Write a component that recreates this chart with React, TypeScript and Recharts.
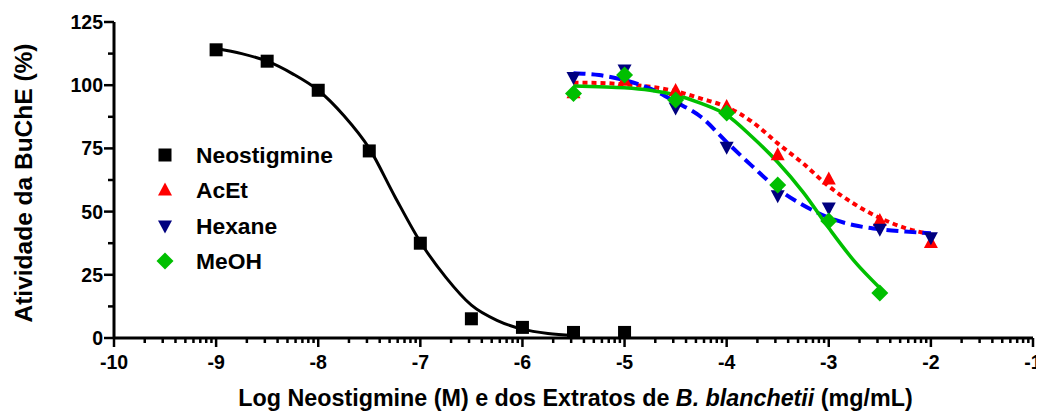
import React from 'react';
import { ComposedChart, Line, Scatter, XAxis, YAxis } from 'recharts';

// ---- measured points ----
const neoX = [-9, -8.5, -8, -7.5, -7, -6.5, -6, -5.5, -5];
const neoY = [114, 109.5, 98, 74, 37.5, 7.6, 4.2, 2.2, 2.2];

const extractX = [-5.5, -5, -4.5, -4, -3.5, -3, -2.5, -2];
const acetY = [97, 102, 97.9, 91.6, 72.5, 62.9, 46.5, 37.8];
const hexY = [103, 106, 91, 75.5, 56.3, 51.4, 43, 39.7];
const meohX = [-5.5, -5, -4.5, -4, -3.5, -3, -2.5];
const meohY = [96.7, 104, 94.1, 89, 60.5, 46.3, 17.8];

// ---- fitted curves ----
const neoFitX = [-9, -8.75, -8.5, -8.25, -8, -7.75, -7.5, -7.25, -7, -6.75, -6.5, -6.25, -6, -5.75, -5.5];
const neoFitY = [114.5, 112.5, 109.5, 104.5, 98, 88, 75, 56, 38, 24, 13, 7, 3.5, 1.8, 1];

const extFitX = [-5.5, -5.25, -5, -4.75, -4.5, -4.25, -4, -3.75, -3.5, -3.25, -3, -2.75, -2.5, -2.25, -2];
const acetFitY = [101, 100.9, 100.3, 99.4, 97.6, 94.7, 91.4, 85.5, 77, 69, 60, 53, 47.5, 43.5, 41];
const hexFitY = [104.7, 104, 102, 98.7, 93.4, 87.4, 77.5, 68, 59, 52.5, 47.6, 44.6, 43, 42.1, 41.4];
const meohFitX = [-5.5, -5.25, -5, -4.75, -4.5, -4.25, -4, -3.75, -3.5, -3.25, -3, -2.75, -2.5];
const meohFitY = [99.7, 99.4, 99, 98, 96.1, 92.8, 88.2, 79.5, 69.5, 57.6, 43.5, 30.4, 19.8];

// ---- axes ----
const xMajorTicks = [-10, -9, -8, -7, -6, -5, -4, -3, -2, -1];
const xMinorFactors = [2, 3, 4, 5, 6, 7, 8, 9];
const yTicks = [0, 12.5, 25, 37.5, 50, 62.5, 75, 87.5, 100, 112.5, 125];
const yMajorTicks = [0, 25, 50, 75, 100, 125];

const seriesNames = ['Neostigmine', 'AcEt', 'Hexane', 'MeOH'];

const zip = (xs: number[], ys: number[]) => xs.map((x, i) => ({ x, y: ys[i] }));

const neoPts = zip(neoX, neoY);
const acetPts = zip(extractX, acetY);
const hexPts = zip(extractX, hexY);
const meohPts = zip(meohX, meohY);
const neoFit = zip(neoFitX, neoFitY);
const acetFit = zip(extFitX, acetFitY);
const hexFit = zip(extFitX, hexFitY);
const meohFit = zip(meohFitX, meohFitY);

const xTicks: number[] = [];
xMajorTicks.forEach((n, i) => {
  xTicks.push(n);
  if (i < xMajorTicks.length - 1) xMinorFactors.forEach((k) => xTicks.push(n + Math.log10(k)));
});

const FONT = '"Liberation Sans", Arial, Helvetica, sans-serif';
const BLACK = '#000000';
const RED = '#ff0000';
const NAVY = '#00007f';
const BLUE = '#0000ff';
const GREEN = '#00bf00';

const Square = ({ cx, cy, fill }: any) => <rect x={cx - 6.5} y={cy - 6.5} width={13} height={13} fill={fill} />;
const TriUp = ({ cx, cy, fill }: any) => (
  <polygon points={`${cx},${cy - 7.5} ${cx + 7},${cy + 5.5} ${cx - 7},${cy + 5.5}`} fill={fill} />
);
const TriDown = ({ cx, cy, fill }: any) => (
  <polygon points={`${cx},${cy + 7.5} ${cx + 7},${cy - 5.5} ${cx - 7},${cy - 5.5}`} fill={fill} />
);
const Diamond = ({ cx, cy, fill }: any) => (
  <polygon points={`${cx},${cy - 8.5} ${cx + 8.5},${cy} ${cx},${cy + 8.5} ${cx - 8.5},${cy}`} fill={fill} />
);

const markerFor = [
  (cx: number, cy: number) => <Square cx={cx} cy={cy} fill={BLACK} />,
  (cx: number, cy: number) => <TriUp cx={cx} cy={cy} fill={RED} />,
  (cx: number, cy: number) => <TriDown cx={cx} cy={cy} fill={NAVY} />,
  (cx: number, cy: number) => <Diamond cx={cx} cy={cy} fill={GREEN} />,
];

const XTick = (props: any) => {
  const { x, y, payload } = props;
  const v = payload.value;
  const major = Math.abs(v - Math.round(v)) < 1e-9;
  return (
    <g>
      <line x1={x} x2={x} y1={y} y2={y + (major ? 9 : 5)} stroke={BLACK} strokeWidth={2.5} />
      {major && (
        <text x={x} y={y + 31} textAnchor="middle" fontFamily={FONT} fontWeight="bold" fontSize={19.5} fill={BLACK}>
          {Math.round(v)}
        </text>
      )}
    </g>
  );
};

const YTick = (props: any) => {
  const { x, y, payload } = props;
  const v = payload.value;
  const major = yMajorTicks.includes(v);
  return (
    <g>
      <line x1={x - (major ? 10 : 6)} x2={x} y1={y} y2={y} stroke={BLACK} strokeWidth={2.5} />
      {major && (
        <text x={x - 11} y={y} dy="0.36em" textAnchor="end" fontFamily={FONT} fontWeight="bold" fontSize={19.5} fill={BLACK}>
          {v}
        </text>
      )}
    </g>
  );
};

const YTitle = (props: any) => {
  const vb = props.viewBox || { x: 40, y: 14, width: 66, height: 316 };
  const cx = vb.x - 25;
  const cy = vb.y + vb.height / 2 + 3;
  return (
    <text
      x={cx}
      y={cy}
      transform={`rotate(-90, ${cx}, ${cy})`}
      textAnchor="middle"
      dominantBaseline="central"
      fontFamily={FONT}
      fontWeight="bold"
      fontSize={24.5}
      fill={BLACK}
    >
      Atividade da BuChE (%)
    </text>
  );
};

const XTitle = (props: any) => {
  const vb = props.viewBox || { x: 106, y: 330, width: 919, height: 60 };
  const cx = vb.x + vb.width / 2 + 2;
  const by = vb.y + 68;
  return (
    <text x={cx} y={by} textAnchor="middle" fontFamily={FONT} fontWeight="bold" fontSize={23.3} fill={BLACK}>
      <tspan>Log Neostigmine (M) e dos Extratos de </tspan>
      <tspan fontStyle="italic">B. blanchetii</tspan>
      <tspan> (mg/mL)</tspan>
    </text>
  );
};

const LegendBox = () => (
  <div
    style={{
      position: 'absolute',
      left: 148,
      top: 129,
      fontFamily: FONT,
      fontWeight: 'bold',
      fontSize: 22.8,
      color: BLACK,
      pointerEvents: 'none',
    }}
  >
    {seriesNames.map((name, i) => (
      <div key={name} style={{ display: 'flex', alignItems: 'center', height: 35.5 }}>
        <svg width={18} height={18} style={{ display: 'block' }}>
          {markerFor[i](9, 9)}
        </svg>
        <span style={{ marginLeft: 22, lineHeight: '22px', whiteSpace: 'nowrap' }}>{name}</span>
      </div>
    ))}
  </div>
);

export default function App() {
  return (
    <div style={{ position: 'relative', width: 1036, height: 405 }}>
      <ComposedChart width={1036} height={405} margin={{ top: 14, right: 11, left: 40, bottom: 15 }}>
        <XAxis
          dataKey="x"
          type="number"
          domain={[-10, -1]}
          ticks={xTicks}
          interval={0}
          allowDataOverflow
          tickSize={0}
          tickMargin={0}
          tickLine={false}
          tick={<XTick />}
          axisLine={{ stroke: BLACK, strokeWidth: 3 }}
          height={60}
          label={{ content: (p: any) => <XTitle {...p} /> }}
        />
        <YAxis
          dataKey="y"
          type="number"
          domain={[0, 125]}
          ticks={yTicks}
          interval={0}
          allowDataOverflow
          tickSize={0}
          tickMargin={0}
          tickLine={false}
          tick={<YTick />}
          axisLine={{ stroke: BLACK, strokeWidth: 3 }}
          width={66}
          label={{ content: (p: any) => <YTitle {...p} /> }}
        />
        <Line data={neoFit} dataKey="y" type="monotone" stroke={BLACK} strokeWidth={3} dot={false} activeDot={false} isAnimationActive={false} legendType="none" />
        <Line data={acetFit} dataKey="y" type="monotone" stroke={RED} strokeWidth={4} strokeDasharray="5 4" dot={false} activeDot={false} isAnimationActive={false} legendType="none" />
        <Line data={hexFit} dataKey="y" type="monotone" stroke={BLUE} strokeWidth={4} strokeDasharray="12 6" dot={false} activeDot={false} isAnimationActive={false} legendType="none" />
        <Line data={meohFit} dataKey="y" type="monotone" stroke={GREEN} strokeWidth={3.5} dot={false} activeDot={false} isAnimationActive={false} legendType="none" />
        <Scatter data={neoPts} dataKey="y" name="Neostigmine" isAnimationActive={false} shape={(p: any) => markerFor[0](p.cx, p.cy)} />
        <Scatter data={acetPts} dataKey="y" name="AcEt" isAnimationActive={false} shape={(p: any) => markerFor[1](p.cx, p.cy)} />
        <Scatter data={hexPts} dataKey="y" name="Hexane" isAnimationActive={false} shape={(p: any) => markerFor[2](p.cx, p.cy)} />
        <Scatter data={meohPts} dataKey="y" name="MeOH" isAnimationActive={false} shape={(p: any) => markerFor[3](p.cx, p.cy)} />
      </ComposedChart>
      <LegendBox />
    </div>
  );
}
